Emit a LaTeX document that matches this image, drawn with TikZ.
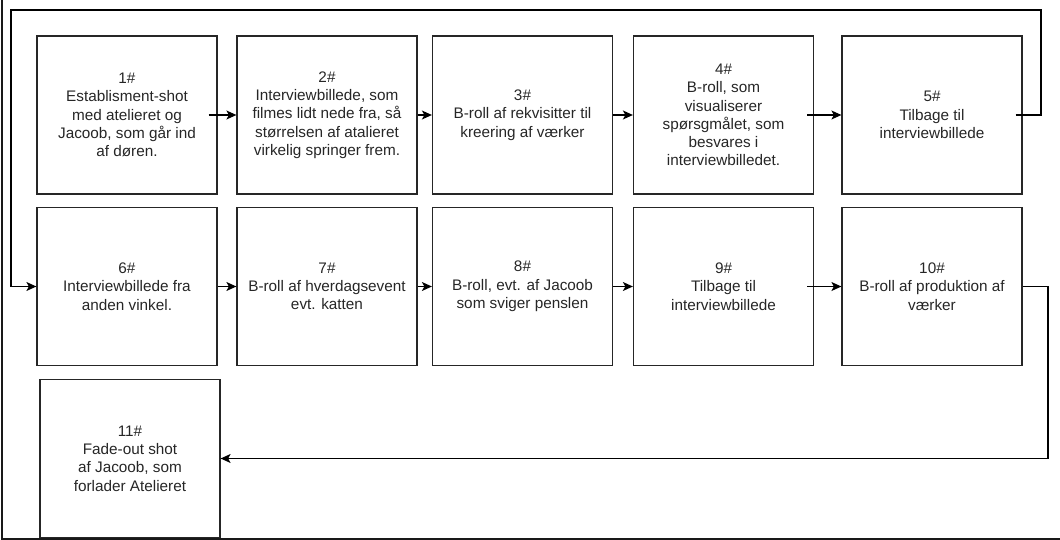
\documentclass[tikz,border=0pt]{standalone}
\usepackage{fontspec}
\setmainfont{Liberation Sans}
\usetikzlibrary{arrows.meta}
\begin{document}
\begin{tikzpicture}[x=1pt,y=-1pt,
  box/.style={draw=black!85, line width=1.2pt, minimum width=180pt, minimum height=158pt,
    inner sep=0pt, align=center, font=\fontsize{15.3}{18.3}\selectfont, text=black!85},
  conn/.style={draw=black, line width=1.2pt, -{Stealth[length=10pt,width=9pt,inset=2.5pt]}},
  frame/.style={draw=black!90, line width=2pt}]
\useasboundingbox (0,0) rectangle (1060,540);
% frame
\coordinate (ftop) at (2,0);
\coordinate (fcorner) at (2,539);
\coordinate (fright) at (1060,539);
\draw[frame] (ftop) -- (fcorner) -- (fright);
% row 1
\node[box] (b1) at (127,115) {1\#\\Establisment-shot\\med atelieret og\\Jacoob, som går ind\\af døren.};
\node[box] (b2) at (327,115) {2\#\\Interviewbillede, som\\filmes lidt nede fra, så\\størrelsen af atalieret\\virkelig springer frem.};
\node[box] (b3) at (522.5,115) {3\#\\B-roll af rekvisitter til\\kreering af værker};
\node[box] (b4) at (723.5,115) {4\#\\B-roll, som\\visualiserer\\spørsgmålet, som\\besvares i\\interviewbilledet.};
\node[box] (b5) at (932,115) {5\#\\Tilbage til\\interviewbillede};
% row 2
\node[box] (b6) at (127,286.5) {6\#\\Interviewbillede fra\\anden vinkel.};
\node[box] (b7) at (327,286.5) {7\#\\B-roll af hverdagsevent\\evt. katten};
\node[box] (b8) at (522.5,286.5) {8\#\\B-roll, evt. af Jacoob\\som sviger penslen};
\node[box] (b9) at (723.5,286.5) {9\#\\Tilbage til\\interviewbillede};
\node[box] (b10) at (932,286.5) {10\#\\B-roll af produktion af\\værker};
% row 3
\node[box] (b11) at (130,458.5) {11\#\\Fade-out shot\\af Jacoob, som\\forlader Atelieret};
% connectors
\draw[conn] ([xshift=-9pt]b1.east) -- (b2.west);
\draw[conn] (b2.east) -- (b3.west);
\draw[conn] (b3.east) -- (b4.west);
\draw[conn] ([xshift=-7pt]b4.east) -- (b5.west);
\coordinate (rt) at (1041,10);
\coordinate (lt) at (11,10);
\draw[conn] ([xshift=-7pt]b5.east) -| (rt) -- (lt) |- (b6.west);
\draw[conn] (b6.east) -- (b7.west);
\draw[conn] (b7.east) -- (b8.west);
\draw[conn] (b8.east) -- (b9.west);
\draw[conn] ([xshift=-7pt]b9.east) -- (b10.west);
\coordinate (rb) at (1048,458.5);
\draw[conn] (b10.east) -| (rb) -- (b11.east);
\end{tikzpicture}
\end{document}
